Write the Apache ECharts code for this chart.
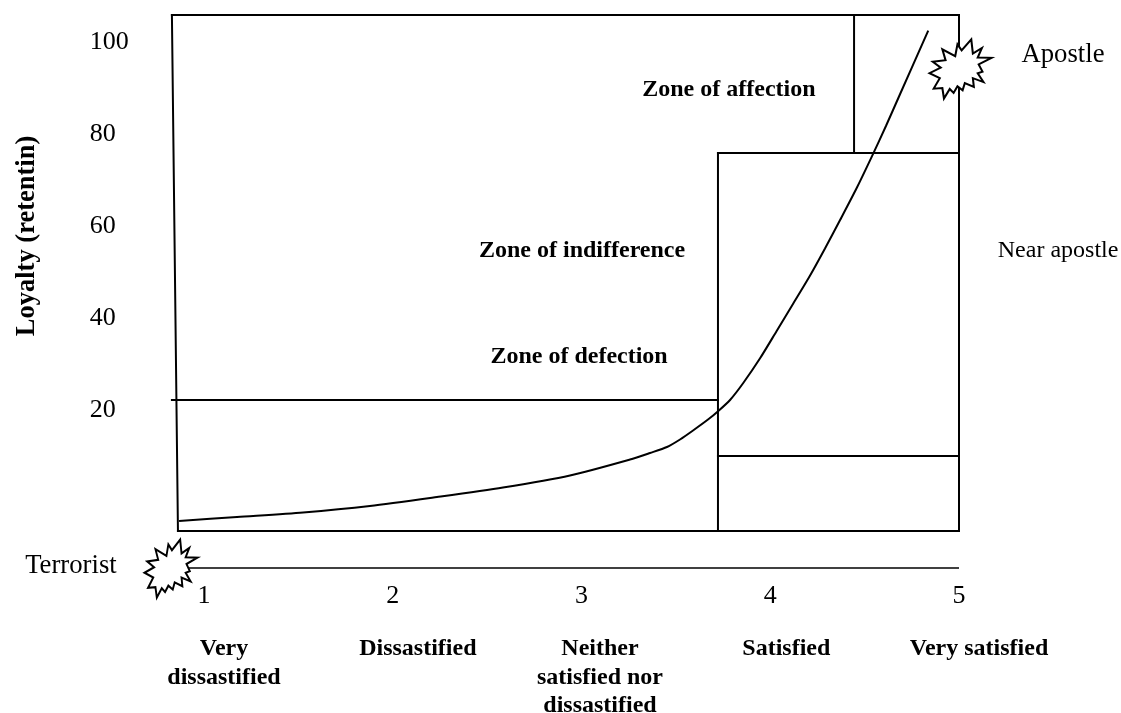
<!DOCTYPE html>
<html><head><meta charset="utf-8">
<style>html,body{margin:0;padding:0;background:#fff}#c{width:1121px;height:713px}</style>
<script src="https://cdn.jsdelivr.net/npm/echarts@6/dist/echarts.min.js"></script>
</head><body><div id="c"></div>
<script>
const xTicks = [1, 2, 3, 4, 5];
const yTicks = [20, 40, 60, 80, 100];
const curveX = [0.868, 1.175, 1.525, 1.879, 2.234, 2.584, 2.939, 3.257, 3.363, 3.453, 3.522, 3.591, 3.672, 3.725, 3.787, 3.857, 3.946, 4.034, 4.122, 4.211, 4.290, 4.370, 4.458, 4.538, 4.613, 4.688, 4.837];
const curveY = [-4.57, -3.70, -2.72, -1.30, 0.65, 2.72, 5.33, 8.80, 10.22, 11.52, 13.15, 15.11, 17.54, 19.35, 21.74, 25.43, 30.80, 36.74, 42.72, 48.80, 54.67, 60.87, 67.83, 74.66, 81.3, 88.26, 102.02];
// zone boundaries: x1, y1, x2, y2
const boundaries = [
  [0.83, 105.43, 0.862, -6.74],
  [0.83, 105.43, 5, 105.43],
  [5, 105.43, 5, -6.74],
  [0.862, -6.74, 5, -6.74],
  [0.83, 21.74, 3.723, 21.74],
  [3.723, 75.43, 3.723, -6.74],
  [3.723, 75.43, 5, 75.43],
  [4.444, 105.43, 4.444, 75.43],
  [3.723, 9.57, 5, 9.57]
];
const scaleLine = [[0.9, -14.78], [5, -14.78]];
const bursts = [[5.008, 93.7], [0.825, -14.9]];
const zoneLabels = [
  [3.781, 89.1, 'Zone of affection'],
  [3.003, 54.1, 'Zone of indifference'],
  [2.987, 31.05, 'Zone of defection']
];
const plainLabels = [
  [5.551, 96.7, 'Apostle'],
  [0.295, -14.4, 'Terrorist']
];
const smallLabels = [[5.525, 54.3, 'Near apostle']];
const categoryLabels = [
  [1.106, -29.3, 'Very\ndissastified'],
  [2.133, -29.3, 'Dissastified'],
  [3.098, -29.3, 'Neither\nsatisfied nor\ndissastified'],
  [4.085, -29.3, 'Satisfied'],
  [5.106, -29.3, 'Very satisfied']
];
const yName = [[0.063, 57.4, 'Loyalty (retentin)']];

const serif = '"Liberation Serif", "Times New Roman", serif';
const burstPath = 'path://M218 83L178 103L190 125L175 130L193 157L160 145L163 172L135 160L128 182L112 170L100 190L88 178L70 207L65 175L38 177L57 145L25 130L60 113L35 95L75 90L65 57L105 78L112 42L125 60L155 27L160 70L188 53L175 82Z';

function textSeries(data, font) {
  return {
    type: 'scatter', data, symbolSize: 0, clip: false, silent: true, z: 10,
    itemStyle: {opacity: 1},
    label: Object.assign({
      show: true, position: 'inside', color: '#000', opacity: 1, fontFamily: serif,
      formatter: p => p.data[2]
    }, font)
  };
}

const chart = echarts.init(document.getElementById('c'), null, {renderer: 'canvas'});
const series = boundaries.map(b => ({
  type: 'line', data: [[b[0], b[1]], [b[2], b[3]]], symbol: 'none', clip: false, silent: true,
  lineStyle: {color: '#000', width: 2, cap: 'square'}, z: 2
}));
series.push({
  type: 'line', data: scaleLine, symbol: 'none', clip: false, silent: true,
  lineStyle: {color: '#000', width: 1.3}, z: 2
});
series.push({
  type: 'line', data: curveX.map((x, i) => [x, curveY[i]]), symbol: 'none', clip: false, smooth: 0.25,
  silent: true, lineStyle: {color: '#000', width: 2}, z: 3
});
series.push({
  type: 'scatter', data: [bursts[0]], symbol: burstPath, symbolSize: [62, 59], clip: false, silent: true, z: 5,
  itemStyle: {color: '#fff', borderColor: '#000', borderWidth: 2, opacity: 1, borderMiterLimit: 4}
});
series.push({
  type: 'scatter', data: [bursts[1]], symbol: burstPath, symbolSize: [53, 58], clip: false, silent: true, z: 5,
  itemStyle: {color: '#fff', borderColor: '#000', borderWidth: 2, opacity: 1, borderMiterLimit: 4}
});
series.push(textSeries(zoneLabels, {fontSize: 24, fontWeight: 'bold'}));
series.push(textSeries(plainLabels, {fontSize: 26.7}));
series.push(textSeries(smallLabels, {fontSize: 24}));
series.push(textSeries(categoryLabels, {fontSize: 24, fontWeight: 'bold', position: 'bottom', distance: 0, lineHeight: 28.5, align: 'center'}));
series.push(textSeries(yName, {fontSize: 26.5, fontWeight: 'bold', rotate: 90}));

chart.setOption({
  animation: false,
  backgroundColor: '#fff',
  grid: {left: 15.25, top: 12.4, width: 1132.5, height: 671.6, outerBoundsMode: 'none', containLabel: false},
  xAxis: {
    type: 'value', min: 0, max: 6, interval: 1, offset: -101,
    axisLine: {show: false}, axisTick: {show: false}, splitLine: {show: false},
    axisLabel: {
      margin: 0, fontSize: 26, color: '#000', fontFamily: serif,
      formatter: v => xTicks.includes(v) ? String(v) : ''
    }
  },
  yAxis: {
    type: 'value', min: -40, max: 106, interval: 20, offset: -74.5,
    axisLine: {show: false}, axisTick: {show: false}, splitLine: {show: false},
    axisLabel: {
      margin: 0, fontSize: 26, color: '#000', fontFamily: serif, align: 'left', verticalAlign: 'top', lineHeight: 5,
      formatter: v => yTicks.includes(v) ? String(v) : ''
    }
  },
  series
});
</script></body></html>
